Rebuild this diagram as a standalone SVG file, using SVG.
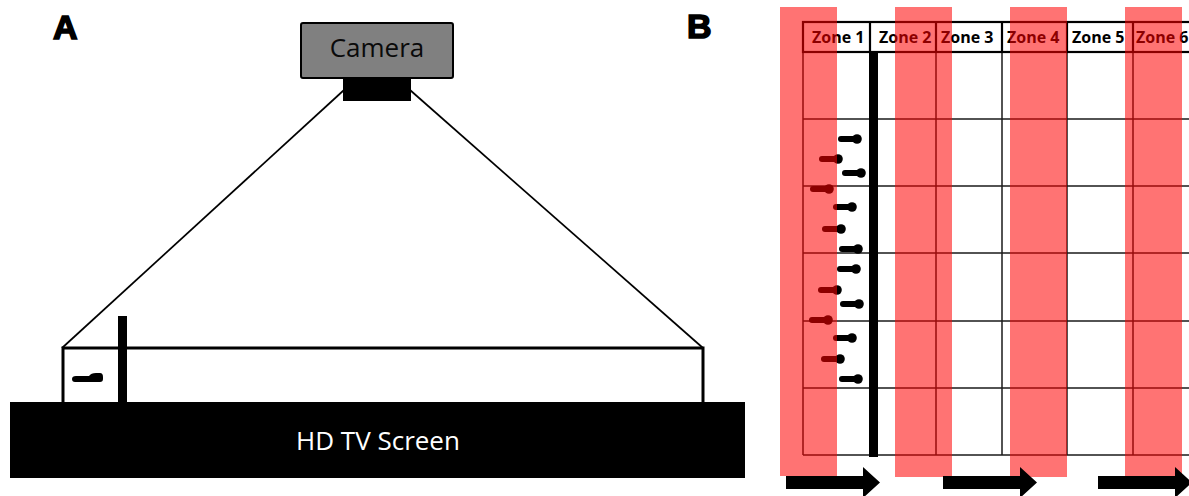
<svg xmlns="http://www.w3.org/2000/svg" xmlns:xlink="http://www.w3.org/1999/xlink" width="1189" height="496" viewBox="0 0 1189 496">
  <style>
    .panel { font-family: "Liberation Sans", Arial, sans-serif; font-weight: bold; font-size: 34px; fill: #000; stroke: #000; stroke-width: 1.6; }
    .big { font-family: "Open Sans", "Liberation Sans", sans-serif; font-size: 26px; }
    .zone { font-family: "Open Sans", "Liberation Sans", sans-serif; font-weight: bold; font-size: 16px; fill: #000; }
    .view { stroke: #000; stroke-width: 1.7; fill: none; }
    .tank { stroke: #000; stroke-width: 3; fill: none; }
    .hdr { stroke: #000; stroke-width: 2.2; fill: none; }
    .grid { stroke: #1a1a1a; stroke-width: 1.5; fill: none; }
    .stripe { fill: #ff0000; fill-opacity: 0.55; }
  </style>
  <defs>
    <!-- small swimming fish: head at origin, body trailing to the left -->
    <g id="fish">
      <rect x="-19" y="-3" width="19" height="6" rx="3"/>
      <circle cx="0" cy="0" r="4.8"/>
    </g>
    <!-- block arrow pointing right, 94px long -->
    <path id="arrow" d="M0,0 H77 V-9 L94,6.5 L77,22 V13 H0 Z"/>
  </defs>

  <rect width="1189" height="496" fill="#fff"/>

  <!-- ===== Panel A: side view of the set-up ===== -->
  <text class="panel" x="53" y="39">A</text>

  <g id="connectors">
    <line class="view" x1="344" y1="90" x2="62" y2="348"/>
    <line class="view" x1="410" y1="90" x2="703" y2="348"/>
  </g>

  <g id="camera">
    <rect x="301" y="23" width="152" height="55" rx="2" fill="#808080" stroke="#000" stroke-width="2"/>
    <text class="big" x="377" y="57" text-anchor="middle" font-size="27" fill="#0a0a0a">Camera</text>
    <rect x="343" y="78" width="68" height="23" fill="#000"/>
  </g>

  <g id="tank">
    <polyline class="tank" points="63,402 63,348 703,348 703,402"/>
  </g>

  <g id="tank-fish">
    <path d="M72,379 Q72,376 76,376 L89,376 Q91,373 96,373 L100,373 Q103,373 103,377 L103,379 Q103,382 100,382 L75,382 Q72,382 72,379 Z" fill="#000"/>
  </g>

  <g id="barrier-a">
    <rect x="118" y="316" width="9" height="92" fill="#000"/>
  </g>

  <g id="tv-screen">
    <rect x="10" y="402" width="735" height="76" fill="#000"/>
    <text class="big" x="378" y="450" text-anchor="middle" fill="#fff">HD TV Screen</text>
  </g>

  <!-- ===== Panel B: top view with zones ===== -->
  <text class="panel" x="687" y="38">B</text>

  <g id="zone-grid">
    <!-- body grid -->
    <g class="grid">
      <line x1="803" y1="52" x2="803" y2="455"/>
      <line x1="870" y1="52" x2="870" y2="455"/>
      <line x1="936" y1="52" x2="936" y2="455"/>
      <line x1="1002" y1="52" x2="1002" y2="455"/>
      <line x1="1067" y1="52" x2="1067" y2="455"/>
      <line x1="1133" y1="52" x2="1133" y2="455"/>
      <line x1="803" y1="119" x2="1189" y2="119"/>
      <line x1="803" y1="186" x2="1189" y2="186"/>
      <line x1="803" y1="253" x2="1189" y2="253"/>
      <line x1="803" y1="321" x2="1189" y2="321"/>
      <line x1="803" y1="388" x2="1189" y2="388"/>
      <line x1="803" y1="455" x2="1189" y2="455"/>
    </g>
    <!-- header row -->
    <g class="hdr">
      <rect x="803" y="22" width="400" height="30"/>
      <line x1="870" y1="22" x2="870" y2="52"/>
      <line x1="936" y1="22" x2="936" y2="52"/>
      <line x1="1002" y1="22" x2="1002" y2="52"/>
      <line x1="1067" y1="22" x2="1067" y2="52"/>
      <line x1="1133" y1="22" x2="1133" y2="52"/>
    </g>
    <text class="zone" x="812" y="43">Zone 1</text>
    <text class="zone" x="879" y="43">Zone 2</text>
    <text class="zone" x="941" y="43">Zone 3</text>
    <text class="zone" x="1007" y="43">Zone 4</text>
    <text class="zone" x="1072" y="43">Zone 5</text>
    <text class="zone" x="1136" y="43">Zone 6</text>
  </g>

  <g id="barrier-b">
    <rect x="869" y="52" width="9" height="405" fill="#000"/>
  </g>

  <g id="fish-group" fill="#000">
    <use xlink:href="#fish" href="#fish" transform="translate(857,139)"/>
    <use xlink:href="#fish" href="#fish" transform="translate(861,173)"/>
    <use xlink:href="#fish" href="#fish" transform="translate(852,207)"/>
    <use xlink:href="#fish" href="#fish" transform="translate(858,249)"/>
    <use xlink:href="#fish" href="#fish" transform="translate(856,269)"/>
    <use xlink:href="#fish" href="#fish" transform="translate(859,304)"/>
    <use xlink:href="#fish" href="#fish" transform="translate(852,338)"/>
    <use xlink:href="#fish" href="#fish" transform="translate(858,379)"/>
    <use xlink:href="#fish" href="#fish" transform="translate(838,159)"/>
    <use xlink:href="#fish" href="#fish" transform="translate(829,189)"/>
    <use xlink:href="#fish" href="#fish" transform="translate(841,229)"/>
    <use xlink:href="#fish" href="#fish" transform="translate(837,290)"/>
    <use xlink:href="#fish" href="#fish" transform="translate(828,320)"/>
    <use xlink:href="#fish" href="#fish" transform="translate(840,359)"/>
  </g>

  <!-- red light stripes, translucent over the grid -->
  <g id="stripes">
    <rect class="stripe" x="780" y="7" width="57" height="469"/>
    <rect class="stripe" x="895" y="7" width="57" height="470"/>
    <rect class="stripe" x="1010" y="7" width="57" height="470"/>
    <rect class="stripe" x="1125" y="7" width="57" height="470"/>
  </g>

  <g id="motion-arrows" fill="#000">
    <use xlink:href="#arrow" href="#arrow" transform="translate(786,476)"/>
    <use xlink:href="#arrow" href="#arrow" transform="translate(943,476)"/>
    <use xlink:href="#arrow" href="#arrow" transform="translate(1098,476)"/>
  </g>
</svg>
